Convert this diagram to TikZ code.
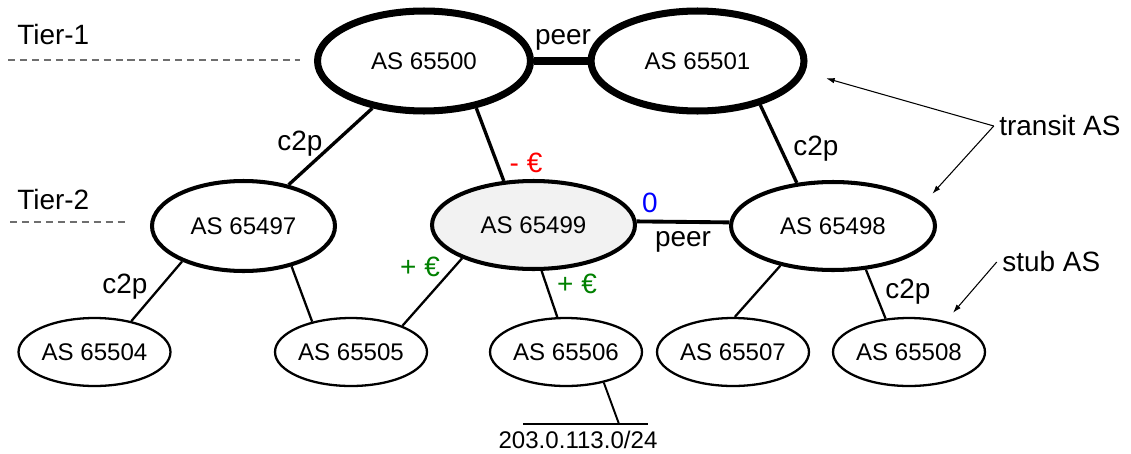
\documentclass[tikz,border=0pt]{standalone}
\usepackage{fontspec}
\setmainfont{Liberation Sans}
\usetikzlibrary{shapes.geometric}
\usetikzlibrary{arrows.meta}
\tikzset{>={Latex[width=1.1mm,length=1.7mm]}}
\newcommand{\asfont}{\fontsize{13.7}{16}\selectfont}
\newcommand{\lblfont}{\fontsize{15.9}{18}\selectfont}
\definecolor{costred}{RGB}{255,0,0}
\definecolor{gaingreen}{RGB}{0,128,0}
\definecolor{zeroblue}{RGB}{0,0,255}
\definecolor{tiergray}{RGB}{110,110,110}
\definecolor{focusgray}{RGB}{242,242,242}
\tikzset{
	tierone/.style={ellipse, draw, line width=4pt, inner sep=0pt, minimum width=4.26cm, minimum height=2cm, font=\asfont},
	tiertwo/.style={ellipse, draw, line width=2.3pt, inner sep=0pt, minimum height=1.76cm, font=\asfont},
	stubas/.style={ellipse, draw, line width=1.3pt, inner sep=0pt, minimum width=3.04cm, minimum height=1.36cm, font=\asfont},
	lbl/.style={inner sep=0pt, font=\lblfont},
	tierline/.style={tiergray, line width=0.8pt, dash pattern=on 4pt off 2.8pt},
	bigpeer/.style={line width=4pt},
	upedge/.style={line width=1.9pt},
	lowedge/.style={line width=1.3pt},
	pointer/.style={->, line width=0.6pt}
}

\begin{document}
\begin{tikzpicture}[x=0.02cm, y=-0.02cm]
	\useasboundingbox (0,0) rectangle (1131,453);
	% tiers
	\node[lbl, anchor=west] (tierA) at (17,35) {Tier-1};
	\node[lbl, anchor=west] (tierB) at (17,200) {Tier-2};
	\draw[tierline] (8,60) -- (300,60);
	\draw[tierline] (10,222) -- (127,222);
	% autonomous systems
	\node[tierone] (as500) at (424,61) {AS 65500};
	\node[tierone] (as501) at (697.5,61) {AS 65501};
	\node[tiertwo, minimum width=3.66cm, minimum height=1.8cm] (as497) at (243.5,226) {AS 65497};
	\node[tiertwo, fill=focusgray, minimum width=4.06cm] (as499) at (533.5,225) {AS 65499};
	\node[tiertwo, minimum width=4.08cm] (as498) at (833,226) {AS 65498};
	\node[stubas] (as504) at (94.5,352) {AS 65504};
	\node[stubas] (as505) at (351,352) {AS 65505};
	\node[stubas] (as506) at (566,352) {AS 65506};
	\node[stubas] (as507) at (733,352) {AS 65507};
	\node[stubas] (as508) at (909,352) {AS 65508};
	% links
	\draw[bigpeer] (as500) -- (as501);
	\draw[upedge] (as500) -- (as497);
	\draw[upedge] (as500.-42) -- (as499.124);
	\draw[upedge] (as501.-35) -- (as498.130);
	\draw[line width=2.2pt] (as499.2) -- (as498.178);
	\draw[lowedge] (as497.210) -- (as504.40);
	\draw[lowedge] (as497.-40) -- (as505.142);
	\draw[lowedge] (as499.205) -- (as505.27);
	\draw[lowedge] (as499.-80) -- (as506.104);
	\draw[lowedge] (as498.217) -- (as507.87);
	\draw[lowedge] (as498.-53) -- (as508.125);
	% prefix
	\coordinate (tap) at (619,424);
	\coordinate (barL) at (523,424);
	\coordinate (barR) at (648,424);
	\draw[line width=1.1pt] (as506.-39) -- (tap);
	\draw[line width=1.1pt] (barL) -- (barR);
	\node[inner sep=0pt, font=\asfont] (pfx) at (578,440) {203.0.113.0/24};
	% link labels
	\node[lbl] (peerA) at (563,40) {peer};
	\node[lbl] (peerB) at (683,242) {peer};
	\node[lbl] (relA) at (300,144) {c2p};
	\node[lbl] (relB) at (816,149) {c2p};
	\node[lbl] (relC) at (125,287) {c2p};
	\node[lbl] (relD) at (908,292) {c2p};
	\node[lbl, text=costred] (costA) at (526,163) {- €};
	\node[lbl, text=gaingreen] (gainA) at (420,267) {+ €};
	\node[lbl, text=gaingreen] (gainB) at (577,284) {+ €};
	\node[lbl, text=zeroblue] (zeroA) at (650,202.5) {0};
	% annotations
	\node[lbl, anchor=west] (transit) at (999,126) {transit AS};
	\node[lbl, anchor=west] (stub) at (1002,262) {stub AS};
	\draw[pointer, shorten >=0.44cm] ([xshift=-3pt]transit.west) -- (as501.-6);
	\draw[pointer, shorten >=0.26cm] ([xshift=-3pt]transit.west) -- (as498.14);
	\draw[pointer, shorten >=0.22cm] ([xshift=-3pt]stub.west) -- (as508.40);
\end{tikzpicture}
\end{document}
